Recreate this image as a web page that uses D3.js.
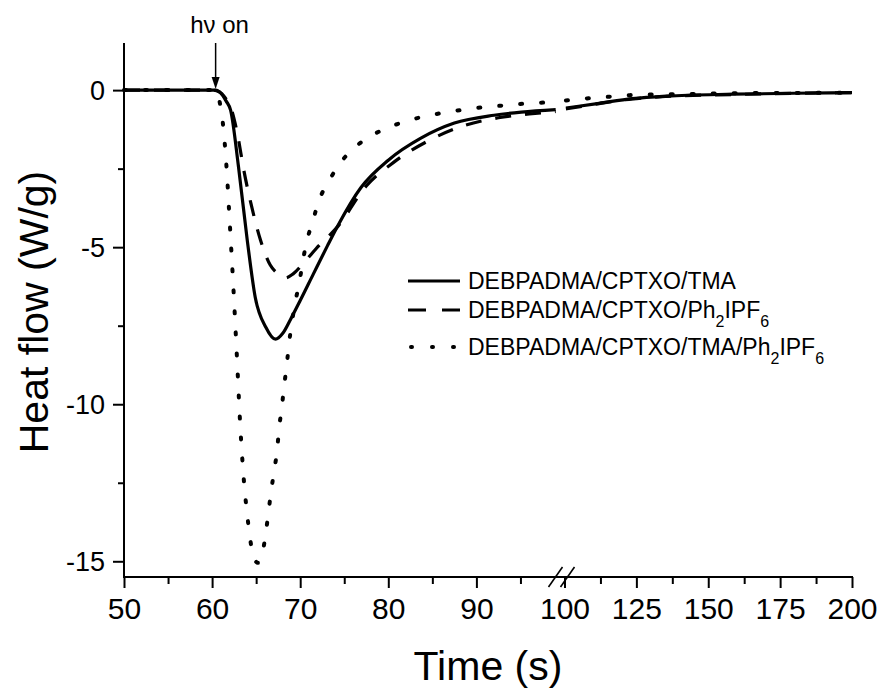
<!DOCTYPE html>
<html>
<head>
<meta charset="utf-8">
<script src="https://cdn.jsdelivr.net/npm/d3@7"></script>
<style>
  body { margin: 0; background: #fff; }
  svg { display: block; font-family: "Liberation Sans", Arial, sans-serif; }
</style>
</head>
<body>
<svg id="chart" width="882" height="689"></svg>
<script>
// data (time in s, heat flow in W/g)
var tma_t = [50, 58, 60.4, 61.0, 61.6, 62.1, 63.0, 64.0, 64.9, 66.1, 67.2, 68.0, 68.9, 70.0, 71.5, 73.1, 74.3, 76.9, 80.0, 83.7, 87.5, 92.0, 95.1, 99.0,
             100.5, 112, 123.6, 135.5, 158.7, 180, 200];
var tma_v = [0, 0, 0, -0.1, -0.35, -0.64, -2.45, -4.8, -6.6, -7.55, -7.93, -7.75, -7.3, -6.7, -5.85, -4.95, -4.3, -3.1, -2.23, -1.53, -1.05, -0.8, -0.7, -0.62,
             -0.57, -0.42, -0.27, -0.19, -0.13, -0.1, -0.08];

var iod_t = [50, 60, 60.8, 61.5, 62.1, 62.9, 63.6, 64.4, 65.5, 66.6, 67.5, 68.3, 69.2, 70.4, 71.8, 74.3, 77.5, 80.6, 84.5, 88.6, 92.5, 96, 99,
             100.5, 112, 123.6, 135.5, 158.7, 180, 200];
var iod_v = [0, 0, -0.05, -0.25, -0.54, -1.43, -2.55, -3.6, -4.78, -5.57, -5.85, -5.98, -5.85, -5.5, -5.05, -4.33, -3.05, -2.3, -1.62, -1.13, -0.88, -0.76, -0.68,
             -0.6, -0.43, -0.28, -0.2, -0.14, -0.1, -0.08];

var both_t = [50, 60, 60.5, 60.8, 61.2, 61.6, 62.0, 62.4, 62.8, 63.2, 63.6, 64.0, 64.3, 64.7, 65.2, 65.7, 66.1, 66.4, 66.7, 67.05, 67.4, 67.6, 67.9, 68.15, 68.45, 68.7, 69.4, 69.85,
              70.7, 71.4, 72.1, 73.3, 74.8, 77.1, 79.5, 81.8, 84.2, 86.5, 88.9, 91.3, 93.6, 95.9, 98.3,
              100.5, 108.3, 115.5, 122.7, 130, 145, 160, 180, 200];
var both_v = [0, 0, 0, -0.3, -1.0, -2.3, -4.2, -6.2, -8.4, -10.7, -12.4, -13.55, -14.25, -14.85, -15.05, -14.76, -14.09, -13.43, -12.77, -12.11, -11.41, -10.77, -10.14, -9.48, -8.81, -8.15, -6.82, -6.19,
              -4.86, -4.2, -3.54, -2.87, -2.23, -1.62, -1.25, -1.01, -0.83, -0.71, -0.61, -0.53, -0.48, -0.42, -0.39,
              -0.33, -0.26, -0.21, -0.16, -0.14, -0.12, -0.1, -0.09, -0.08];

var series_names = [
  [["DEBPADMA/CPTXO/TMA", false]],
  [["DEBPADMA/CPTXO/Ph", false], ["2", true], ["IPF", false], ["6", true]],
  [["DEBPADMA/CPTXO/TMA/Ph", false], ["2", true], ["IPF", false], ["6", true]]
];
var series_dash = [null, "16,14", "2,19"];

var xticks_left  = [50, 60, 70, 80, 90];
var xminor_left  = [55, 65, 75, 85, 95];
var xticks_right = [100, 125, 150, 175, 200];
var xminor_right = [112.5, 137.5, 162.5, 187.5];
var yticks = [0, -5, -10, -15];
var yminor = [-2.5, -7.5, -12.5];
var light_on = 60.4;

var svg = d3.select("#chart");

var xLeft  = d3.scaleLinear().domain([50, 100]).range([124, 564.5]);
var xRight = d3.scaleLinear().domain([100, 200]).range([564.5, 852]);
var y      = d3.scaleLinear().domain([-15.5, 1.5]).range([577, 43]);
var axisY0 = y.range()[0];

var series = [
  {t: tma_t, v: tma_v},
  {t: iod_t, v: iod_v},
  {t: both_t, v: both_v}
].map(function(s, i) {
  var pts = s.t.map(function(t, j) { return {t: t, v: s.v[j]}; });
  return {name: series_names[i], dash: series_dash[i], pts: pts};
});

// curves, drawn per axis segment
var lineL = d3.line().x(function(d) { return xLeft(d.t); }).y(function(d) { return y(d.v); }).curve(d3.curveMonotoneX);
var lineR = d3.line().x(function(d) { return xRight(d.t); }).y(function(d) { return y(d.v); }).curve(d3.curveMonotoneX);

var curves = svg.append("g").attr("class", "curves");
series.forEach(function(s) {
  [[lineL, s.pts.filter(function(d) { return d.t < 100; })],
   [lineR, s.pts.filter(function(d) { return d.t > 100; })]].forEach(function(p) {
    curves.append("path")
      .attr("d", p[0](p[1]))
      .attr("fill", "none")
      .attr("stroke", "#000")
      .attr("stroke-width", s.dash === "2,19" ? 4 : 3.2)
      .attr("stroke-linecap", s.dash === "2,19" ? "round" : "butt")
      .attr("stroke-dasharray", s.dash);
  });
});

// axes
function styleAxis(g) {
  g.select(".domain").remove();
  g.selectAll("line").attr("stroke", "#000").attr("stroke-width", 2);
}

svg.append("g").attr("transform", "translate(0," + axisY0 + ")")
  .call(d3.axisBottom(xLeft).tickValues(xticks_left).tickSize(11).tickPadding(8))
  .call(styleAxis)
  .selectAll("text").style("font-size", "30px").attr("fill", "#000").attr("dy", "0.78em");
svg.append("g").attr("transform", "translate(0," + axisY0 + ")")
  .call(d3.axisBottom(xLeft).tickValues(xminor_left).tickSize(7).tickFormat(""))
  .call(styleAxis);
svg.append("g").attr("transform", "translate(0," + axisY0 + ")")
  .call(d3.axisBottom(xRight).tickValues(xticks_right).tickSize(11).tickPadding(8))
  .call(styleAxis)
  .selectAll("text").style("font-size", "30px").attr("fill", "#000").attr("dy", "0.78em");
svg.append("g").attr("transform", "translate(0," + axisY0 + ")")
  .call(d3.axisBottom(xRight).tickValues(xminor_right).tickSize(7).tickFormat(""))
  .call(styleAxis);

svg.append("g").attr("transform", "translate(124,0)")
  .call(d3.axisLeft(y).tickValues(yticks).tickSize(11).tickPadding(8).tickFormat(function(d) { return String(d); }))
  .call(styleAxis)
  .selectAll("text").style("font-size", "27px").attr("fill", "#000").attr("dy", "0.35em");
svg.append("g").attr("transform", "translate(124,0)")
  .call(d3.axisLeft(y).tickValues(yminor).tickSize(6).tickFormat(""))
  .call(styleAxis);

// axis lines
svg.append("line").attr("x1", 124).attr("x2", 124).attr("y1", y.range()[1]).attr("y2", axisY0 + 1)
  .attr("stroke", "#000").attr("stroke-width", 2);
svg.append("line").attr("x1", 123).attr("x2", xRight.range()[1] + 1).attr("y1", axisY0).attr("y2", axisY0)
  .attr("stroke", "#000").attr("stroke-width", 2);

// axis break marks
var bx = xLeft(100);
[-9, 3].forEach(function(o) {
  svg.append("line")
    .attr("x1", bx + o - 7).attr("y1", axisY0 + 10)
    .attr("x2", bx + o + 7).attr("y2", axisY0 - 10)
    .attr("stroke", "#000").attr("stroke-width", 1.6);
});

// axis titles
svg.append("text").attr("x", 488).attr("y", 680).attr("text-anchor", "middle")
  .style("font-size", "41px").text("Time (s)");
svg.append("text").attr("transform", "translate(48,312) rotate(-90)").attr("text-anchor", "middle")
  .style("font-size", "41px").text("Heat flow (W/g)");

// light-on marker
var ax = xLeft(light_on);
svg.append("text").attr("x", ax + 4).attr("y", 33).attr("text-anchor", "middle")
  .style("font-size", "24px").text("h\u03bd on");
svg.append("line").attr("x1", ax).attr("x2", ax).attr("y1", 43).attr("y2", 80)
  .attr("stroke", "#000").attr("stroke-width", 1.5);
svg.append("path").attr("d", "M" + (ax - 4) + ",77L" + (ax + 4) + ",77L" + ax + "," + (y(0) - 1) + "Z")
  .attr("fill", "#000");

// legend
var legRows = [281, 310, 347];
var leg = svg.append("g").attr("class", "legend");
series.forEach(function(s, i) {
  var ly = legRows[i];
  leg.append("line").attr("x1", 408).attr("x2", 460).attr("y1", ly).attr("y2", ly)
    .attr("stroke", "#000")
    .attr("stroke-width", s.dash === "2,19" ? 4 : 3.2)
    .attr("stroke-linecap", s.dash === "2,19" ? "round" : "butt")
    .attr("stroke-dasharray", s.dash === "2,19" ? "1,20" : (s.dash ? "18,16" : null))
    .attr("transform", s.dash === "2,19" ? "translate(3,0)" : null);
  var txt = leg.append("text").attr("x", 468).attr("y", ly + 8).style("font-size", "23px");
  var sub = false;
  s.name.forEach(function(p) {
    var dy = 0;
    if (p[1] && !sub) dy = 9;
    if (!p[1] && sub) dy = -9;
    sub = p[1];
    txt.append("tspan").attr("dy", dy).style("font-size", p[1] ? "16px" : "23px").text(p[0]);
  });
});
</script>
</body>
</html>
